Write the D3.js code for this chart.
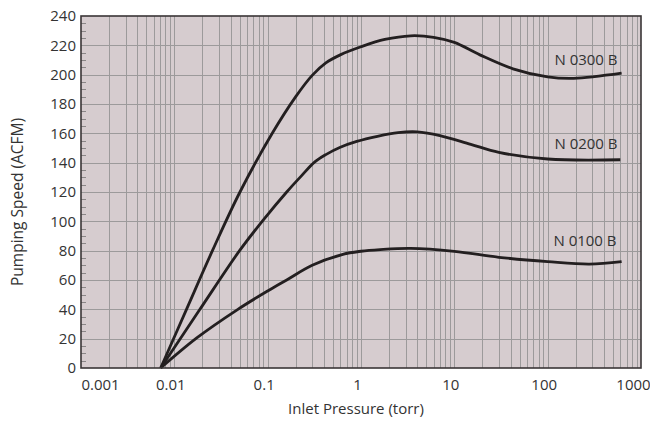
<!DOCTYPE html>
<html>
<head>
<meta charset="utf-8">
<script src="https://cdn.jsdelivr.net/npm/d3@7"></script>
<style>
  html, body { margin: 0; padding: 0; background: #ffffff; }
  svg { display: block; }
  text { font-family: "Open Sans", "Noto Sans", sans-serif; fill: #333333; }
</style>
</head>
<body>
<svg id="chart" width="650" height="421"></svg>
<script>
// ---- data ----
const xTickValues = [0.001, 0.01, 0.1, 1, 10, 100, 1000];
const xTickLabels = ["0.001", "0.01", "0.1", "1", "10", "100", "1000"];
const yTickValues = [0, 20, 40, 60, 80, 100, 120, 140, 160, 180, 200, 220, 240];

const seriesNames = ["N 0300 B", "N 0200 B", "N 0100 B"];

const n300Pressure = [0.00714, 0.0135, 0.0256, 0.0505, 0.112, 0.200, 0.300, 0.420, 0.600, 1.00, 1.80, 3.40, 6.00, 10.0, 18.8, 42.5, 100, 190, 620];
const n300Speed    = [0, 40, 80, 120, 160, 185, 199.5, 208, 213.5, 219, 224, 226.5, 225.5, 222, 213.5, 204, 198.5, 197.5, 201];

const n200Pressure = [0.00714, 0.0188, 0.0500, 0.0900, 0.160, 0.230, 0.320, 0.420, 0.600, 0.900, 1.50, 2.50, 4.00, 7.00, 15.0, 30.0, 100, 600];
const n200Speed    = [0, 40, 80, 101, 120, 131, 140.5, 145.5, 150.5, 154.5, 158, 160.5, 161, 158.5, 152.5, 147, 142.5, 142];

const n100Pressure = [0.00714, 0.0174, 0.0480, 0.100, 0.160, 0.300, 0.640, 1.00, 1.60, 3.40, 10.0, 30.0, 100, 280, 620];
const n100Speed    = [0, 20.5, 40, 52.5, 60, 70, 77.5, 79.6, 80.7, 81.5, 79.5, 75.5, 72.5, 70.8, 72.5];

const seriesPressure = [n300Pressure, n200Pressure, n100Pressure];
const seriesSpeed = [n300Speed, n200Speed, n100Speed];

// ---- layout ----
const svg = d3.select("#chart");
const plotL = 81, plotR = 641, plotT = 16, plotB = 368;

const x = d3.scaleLog().domain([0.001, 1000]).range([plotL, plotR]);
const y = d3.scaleLinear().domain([0, 240]).range([plotB, plotT]);

// background
svg.append("rect")
  .attr("x", plotL).attr("y", plotT)
  .attr("width", plotR - plotL).attr("height", plotB - plotT)
  .attr("fill", "#d6cccf");

// vertical log grid
const vGrid = [];
for (let e = -3; e < 3; e++) {
  for (let k = 1; k <= 9; k++) vGrid.push(k * Math.pow(10, e));
}
svg.append("g").selectAll("line").data(vGrid.filter(v => v > 0.001 * 1.0001)).join("line")
  .attr("x1", d => Math.round(x(d)) + 0.5).attr("x2", d => Math.round(x(d)) + 0.5)
  .attr("y1", plotT).attr("y2", plotB)
  .attr("stroke", "#9c9a9b").attr("stroke-width", 1);

// horizontal grid
svg.append("g").selectAll("line").data(yTickValues.filter(v => v > 0 && v < 240)).join("line")
  .attr("x1", plotL).attr("x2", plotR)
  .attr("y1", d => Math.round(y(d)) + 0.5).attr("y2", d => Math.round(y(d)) + 0.5)
  .attr("stroke", "#9c9a9b").attr("stroke-width", 1);

// minor y ticks every 5 units
const minorY = d3.range(5, 240, 5).filter(v => v % 20 !== 0);
svg.append("g").selectAll("line").data(minorY).join("line")
  .attr("x1", plotL).attr("x2", plotL + 5)
  .attr("y1", d => Math.round(y(d)) + 0.5).attr("y2", d => Math.round(y(d)) + 0.5)
  .attr("stroke", "#8a8687").attr("stroke-width", 1);

// curves
const line = d3.line()
  .x(d => x(d[0]))
  .y(d => y(d[1]))
  .curve(d3.curveCatmullRom.alpha(0.5));

seriesPressure.forEach((ps, i) => {
  const pts = ps.map((p, j) => [p, seriesSpeed[i][j]]);
  svg.append("path")
    .attr("d", line(pts))
    .attr("fill", "none")
    .attr("stroke", "#231f20")
    .attr("stroke-width", 2.8)
    .attr("stroke-linecap", "butt")
    .attr("stroke-linejoin", "round");
});

// border
svg.append("rect")
  .attr("x", plotL).attr("y", plotT)
  .attr("width", plotR - plotL).attr("height", plotB - plotT)
  .attr("fill", "none").attr("stroke", "#3a3536").attr("stroke-width", 1.6);

// axes
const xAxis = d3.axisBottom(x).tickValues(xTickValues)
  .tickFormat((d, i) => xTickLabels[i]).tickSize(0).tickPadding(11);
const gx = svg.append("g").attr("transform", `translate(0,${plotB})`).call(xAxis);
gx.select(".domain").remove();
gx.selectAll("text")
  .attr("font-size", 15)
  .style("font-family", '"Open Sans", "Noto Sans", sans-serif')
  .attr("fill", "#333")
  .attr("dx", (d, i) => i === 0 ? 19 : (i === xTickValues.length - 1 ? -8 : -4));

const yAxis = d3.axisLeft(y).tickValues(yTickValues).tickSize(0).tickPadding(5);
const gy = svg.append("g").attr("transform", `translate(${plotL},0)`).call(yAxis);
gy.select(".domain").remove();
gy.selectAll("text")
  .attr("font-size", 15)
  .style("font-family", '"Open Sans", "Noto Sans", sans-serif')
  .attr("fill", "#333");

// axis titles
svg.append("text")
  .attr("x", 356).attr("y", 414)
  .attr("text-anchor", "middle")
  .attr("font-size", 15)
  .text("Inlet Pressure (torr)");

svg.append("text")
  .attr("transform", "translate(23,202) rotate(-90)")
  .attr("text-anchor", "middle")
  .attr("font-size", 15.5)
  .text("Pumping Speed (ACFM)");

// series labels
const labelPos = [[586, 65], [586, 149], [585, 246]];
seriesNames.forEach((name, i) => {
  svg.append("text")
    .attr("x", labelPos[i][0]).attr("y", labelPos[i][1])
    .attr("text-anchor", "middle")
    .attr("font-size", 15)
    .text(name);
});
</script>
</body>
</html>
